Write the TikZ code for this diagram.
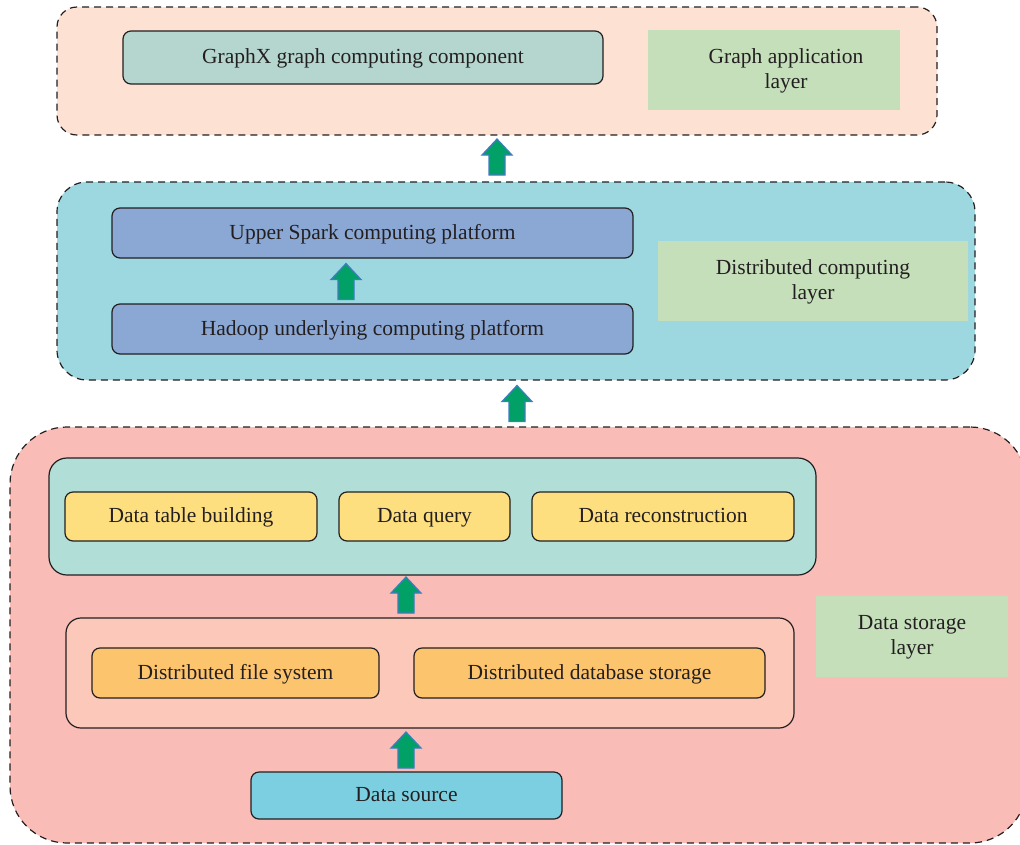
\documentclass[tikz,border=0pt]{standalone}
\usepackage{fontspec}
\setmainfont{Liberation Serif}
\definecolor{inkc}{HTML}{231F20}
\definecolor{toplayer}{HTML}{FDE1D2}
\definecolor{graphxc}{HTML}{B4D6CE}
\definecolor{labelc}{HTML}{C4DFBA}
\definecolor{midlayer}{HTML}{9DD8E0}
\definecolor{sparkc}{HTML}{8BA8D5}
\definecolor{botlayer}{HTML}{F9BCB7}
\definecolor{tealc}{HTML}{B1DED6}
\definecolor{yellowc}{HTML}{FEDF80}
\definecolor{peachc}{HTML}{FBC8BA}
\definecolor{orangec}{HTML}{FDC46E}
\definecolor{sourcec}{HTML}{7BCFE0}
\definecolor{arrowfill}{HTML}{00A067}
\definecolor{arrowline}{HTML}{3F7CC0}
\tikzset{
  x=1pt, y=-1pt,
  every node/.style={inner sep=0pt, outer sep=0pt, text=inkc,
    font=\fontsize{21.5}{25.5}\selectfont},
  layerbox/.style={draw=inkc, line width=1.2pt, dash pattern=on 7pt off 5pt},
  solidbox/.style={draw=inkc, line width=1.2pt, rounded corners=8pt,
    text height=16pt, text depth=4pt},
  tagbox/.style={fill=labelc},
  tagtext/.style={align=center},
  arrowstyle/.style={fill=arrowfill, draw=arrowline, line width=1.2pt, line join=miter},
  uparr/.pic={\draw[arrowstyle] (-8,18) -- (-8,-2) -- (-15,-2) -- (0,-18) -- (15,-2) -- (8,-2) -- (8,18) -- cycle;},
}
\begin{document}
\begin{tikzpicture}
\useasboundingbox (0,0) rectangle (1020,844);
\clip (0,0) rectangle (1020,844);
% ---------- top layer
\node[layerbox, fill=toplayer, rounded corners=20pt, minimum width=880pt, minimum height=128pt] (top) at (497,71) {};
\node[solidbox, fill=graphxc, minimum width=480pt, minimum height=53pt] (graphx) at (363,57.5) {GraphX graph computing component};
\node[tagbox, minimum width=252pt, minimum height=80pt] (gal) at (774,70) {};
\node[tagtext] (galtext) at (786,71) {Graph application\\layer};
% ---------- middle layer
\node[layerbox, fill=midlayer, rounded corners=30pt, minimum width=918pt, minimum height=198pt] (mid) at (516,281) {};
\node[solidbox, fill=sparkc, minimum width=521pt, minimum height=50pt] (spark) at (372.5,233) {Upper Spark computing platform};
\node[solidbox, fill=sparkc, minimum width=521pt, minimum height=50pt] (hadoop) at (372.5,329) {Hadoop underlying computing platform};
\node[tagbox, tagtext, minimum width=310pt, minimum height=80pt] (dcl) at (813,281) {};
\node[tagtext] (dcltext) at (813,282) {Distributed computing\\layer};
% ---------- bottom layer
\node[layerbox, fill=botlayer, rounded corners=57pt, minimum width=1017pt, minimum height=416pt] (bot) at (518.5,635) {};
\node[solidbox, fill=tealc, rounded corners=18pt, minimum width=767pt, minimum height=117pt] (proc) at (432.5,516.5) {};
\node[solidbox, fill=yellowc, minimum width=252pt, minimum height=49pt] (table) at (191,516.5) {Data table building};
\node[solidbox, fill=yellowc, minimum width=171pt, minimum height=49pt] (query) at (424.5,516.5) {Data query};
\node[solidbox, fill=yellowc, minimum width=262pt, minimum height=49pt] (recon) at (663,516.5) {Data reconstruction};
\node[solidbox, fill=peachc, rounded corners=15pt, minimum width=728pt, minimum height=110pt] (store) at (430,673) {};
\node[solidbox, fill=orangec, minimum width=287pt, minimum height=50pt] (dfs) at (235.5,673) {Distributed file system};
\node[solidbox, fill=orangec, minimum width=351pt, minimum height=50pt] (ddb) at (589.5,673) {Distributed database storage};
\node[tagbox, minimum width=192pt, minimum height=81pt] (dsl) at (912,636.5) {};
\node[tagtext] (dsltext) at (912,637.5) {Data storage\\layer};
\node[solidbox, fill=sourcec, minimum width=311pt, minimum height=47pt] (source) at (406.5,795.5) {Data source};
% ---------- arrows
\coordinate (a1) at (497,157);
\coordinate (a2) at (346,281.5);
\coordinate (a3) at (517,403.5);
\coordinate (a4) at (406,595);
\coordinate (a5) at (406,750);
\foreach \c in {a1,a2,a3,a4,a5} \pic at (\c) {uparr};
\end{tikzpicture}
\end{document}
